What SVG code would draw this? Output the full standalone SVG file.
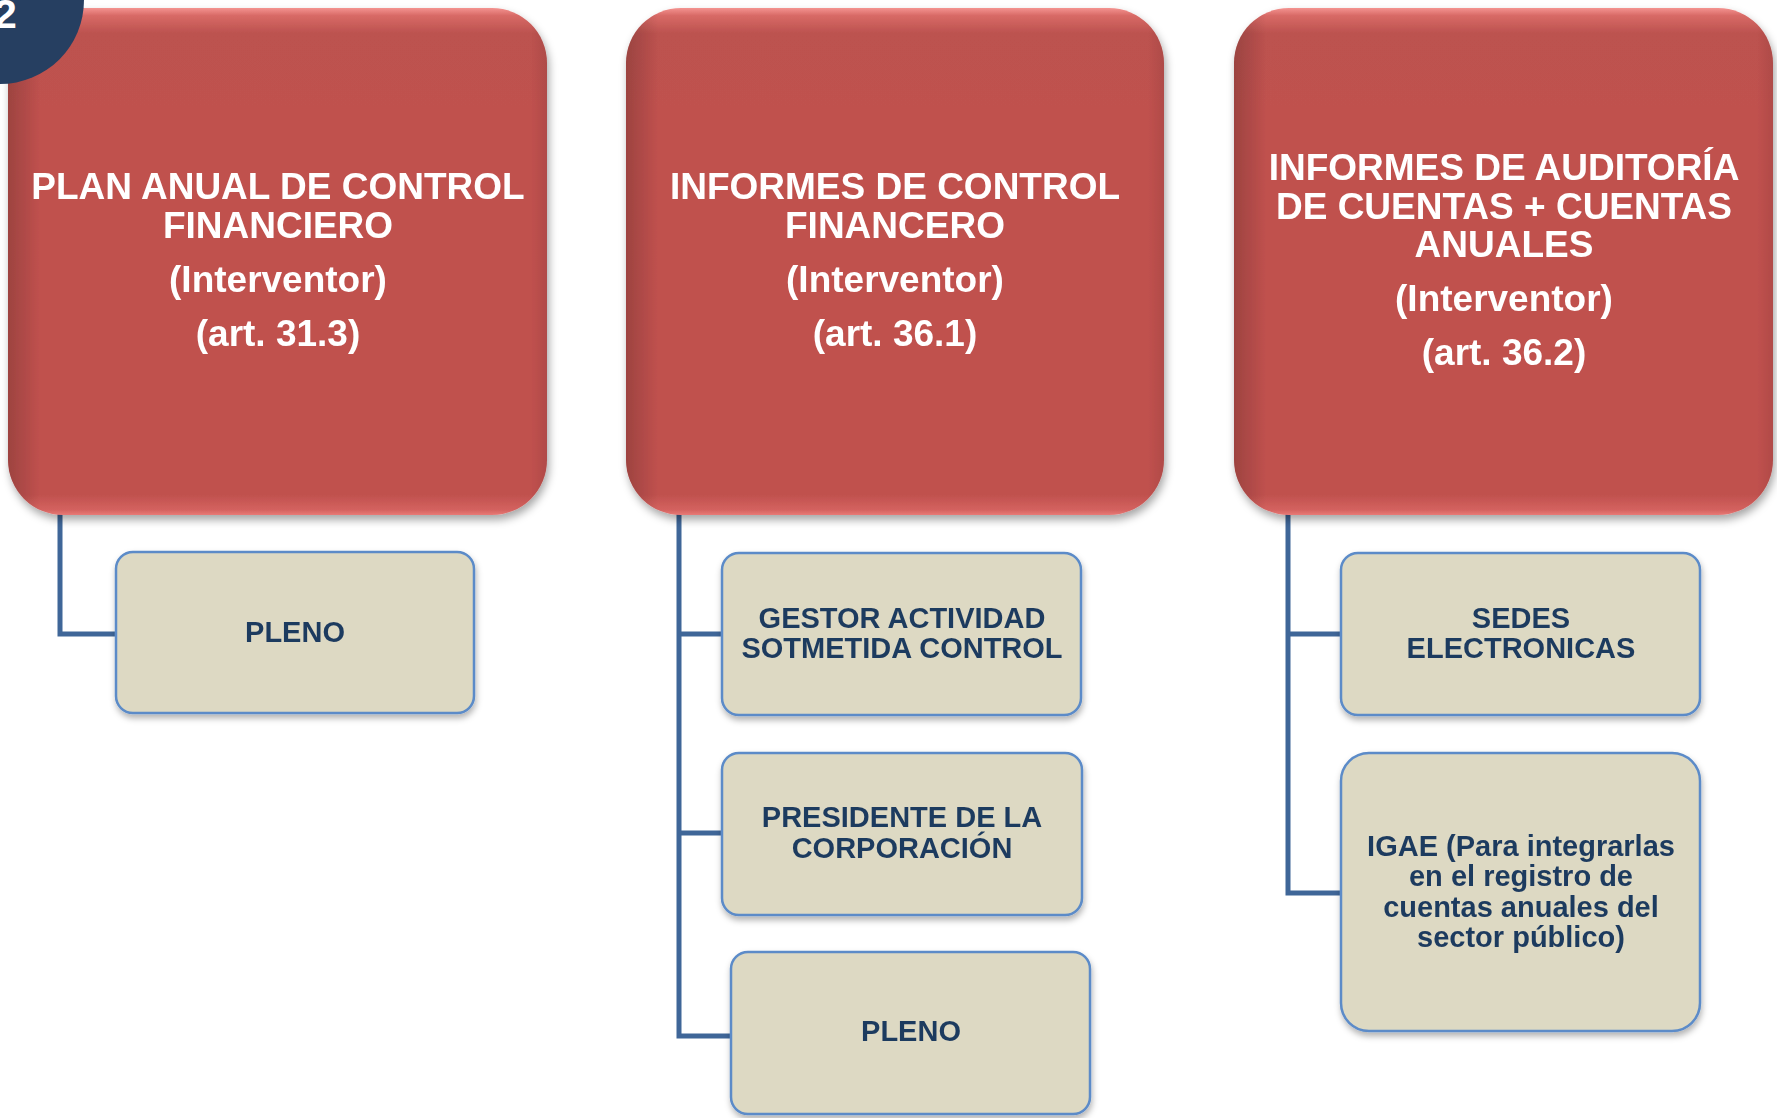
<svg xmlns="http://www.w3.org/2000/svg" width="1777" height="1118" viewBox="0 0 1777 1118">
  <defs>
    <linearGradient id="redV" x1="0" y1="0" x2="0" y2="1">
      <stop offset="0" stop-color="#F49390"/>
      <stop offset="0.015" stop-color="#D86A66"/>
      <stop offset="0.05" stop-color="#BC524F"/>
      <stop offset="0.2" stop-color="#C0514E"/>
      <stop offset="0.96" stop-color="#C0514E"/>
      <stop offset="0.99" stop-color="#D4625F"/>
      <stop offset="1" stop-color="#E87A77"/>
    </linearGradient>
    <linearGradient id="redH" x1="0" y1="0" x2="1" y2="0">
      <stop offset="0" stop-color="#000" stop-opacity="0.18"/>
      <stop offset="0.06" stop-color="#000" stop-opacity="0"/>
      <stop offset="0.97" stop-color="#000" stop-opacity="0"/>
      <stop offset="1" stop-color="#000" stop-opacity="0.08"/>
    </linearGradient>
    <filter id="shadow" x="-10%" y="-10%" width="125%" height="125%">
      <feDropShadow dx="2" dy="5" stdDeviation="4" flood-color="#000" flood-opacity="0.35"/>
    </filter>
    <filter id="shadowS" x="-10%" y="-10%" width="125%" height="130%">
      <feDropShadow dx="1" dy="4" stdDeviation="3" flood-color="#000" flood-opacity="0.3"/>
    </filter>
  </defs>
  <style>
    .red { fill: url(#redV); }
    .redShade { fill: url(#redH); }
    .ttl { font-family: "Liberation Sans", Arial, sans-serif; font-weight: bold; font-size: 37px; fill: #FFFFFF; text-anchor: middle; }
    .child { fill: #DDD9C3; stroke: #5B8BC8; stroke-width: 2.5; }
    .lbl { font-family: "Liberation Sans", Arial, sans-serif; font-weight: bold; font-size: 29px; fill: #1F3B5F; text-anchor: middle; }
    .conn { fill: none; stroke: #3F6698; stroke-width: 5; }
  </style>

  <g id="connectors">
    <path class="conn" d="M60 514 V634 H118"/>
    <path class="conn" d="M679 514 V1036 H733"/>
    <path class="conn" d="M679 634 H724"/>
    <path class="conn" d="M679 833 H724"/>
    <path class="conn" d="M1288 514 V893 H1343"/>
    <path class="conn" d="M1288 634 H1343"/>
  </g>

  <g id="node-plan" filter="url(#shadow)">
    <rect class="red" x="8" y="8" width="539" height="507" rx="55"/>
    <rect class="redShade" x="8" y="8" width="539" height="507" rx="55"/>
    <text class="ttl" x="278" y="199">PLAN ANUAL DE CONTROL</text>
    <text class="ttl" x="278" y="238">FINANCIERO</text>
    <text class="ttl" x="278" y="292">(Interventor)</text>
    <text class="ttl" x="278" y="346">(art. 31.3)</text>
  </g>

  <g id="node-informes" filter="url(#shadow)">
    <rect class="red" x="626" y="8" width="538" height="507" rx="55"/>
    <rect class="redShade" x="626" y="8" width="538" height="507" rx="55"/>
    <text class="ttl" x="895" y="199">INFORMES DE CONTROL</text>
    <text class="ttl" x="895" y="238">FINANCERO</text>
    <text class="ttl" x="895" y="292">(Interventor)</text>
    <text class="ttl" x="895" y="346">(art. 36.1)</text>
  </g>

  <g id="node-auditoria" filter="url(#shadow)">
    <rect class="red" x="1234" y="8" width="539" height="507" rx="55"/>
    <rect class="redShade" x="1234" y="8" width="539" height="507" rx="55"/>
    <text class="ttl" x="1504" y="180">INFORMES DE AUDITORÍA</text>
    <text class="ttl" x="1504" y="219">DE CUENTAS + CUENTAS</text>
    <text class="ttl" x="1504" y="257">ANUALES</text>
    <text class="ttl" x="1504" y="311">(Interventor)</text>
    <text class="ttl" x="1504" y="365">(art. 36.2)</text>
  </g>

  <g id="badge">
    <circle cx="0" cy="0" r="84" fill="#263F61"/>
    <text x="-6" y="28" font-family="Liberation Sans, Arial, sans-serif" font-weight="bold" font-size="41" fill="#FFFFFF">2</text>
  </g>

  <g id="node-pleno-1" filter="url(#shadowS)">
    <rect class="child" x="116" y="552" width="358" height="161" rx="17"/>
    <text class="lbl" x="295" y="642">PLENO</text>
  </g>

  <g id="node-gestor" filter="url(#shadowS)">
    <rect class="child" x="722" y="553" width="359" height="162" rx="17"/>
    <text class="lbl" x="902" y="628">GESTOR ACTIVIDAD</text>
    <text class="lbl" x="902" y="658">SOTMETIDA CONTROL</text>
  </g>

  <g id="node-presidente" filter="url(#shadowS)">
    <rect class="child" x="722" y="753" width="360" height="162" rx="17"/>
    <text class="lbl" x="902" y="827">PRESIDENTE DE LA</text>
    <text class="lbl" x="902" y="858">CORPORACIÓN</text>
  </g>

  <g id="node-pleno-2" filter="url(#shadowS)">
    <rect class="child" x="731" y="952" width="359" height="162" rx="17"/>
    <text class="lbl" x="911" y="1041">PLENO</text>
  </g>

  <g id="node-sedes" filter="url(#shadowS)">
    <rect class="child" x="1341" y="553" width="359" height="162" rx="17"/>
    <text class="lbl" x="1521" y="628">SEDES</text>
    <text class="lbl" x="1521" y="658">ELECTRONICAS</text>
  </g>

  <g id="node-igae" filter="url(#shadowS)">
    <rect class="child" x="1341" y="753" width="359" height="278" rx="28"/>
    <text class="lbl" x="1521" y="856">IGAE (Para integrarlas</text>
    <text class="lbl" x="1521" y="886">en el registro de</text>
    <text class="lbl" x="1521" y="917">cuentas anuales del</text>
    <text class="lbl" x="1521" y="947">sector público)</text>
  </g>
</svg>
